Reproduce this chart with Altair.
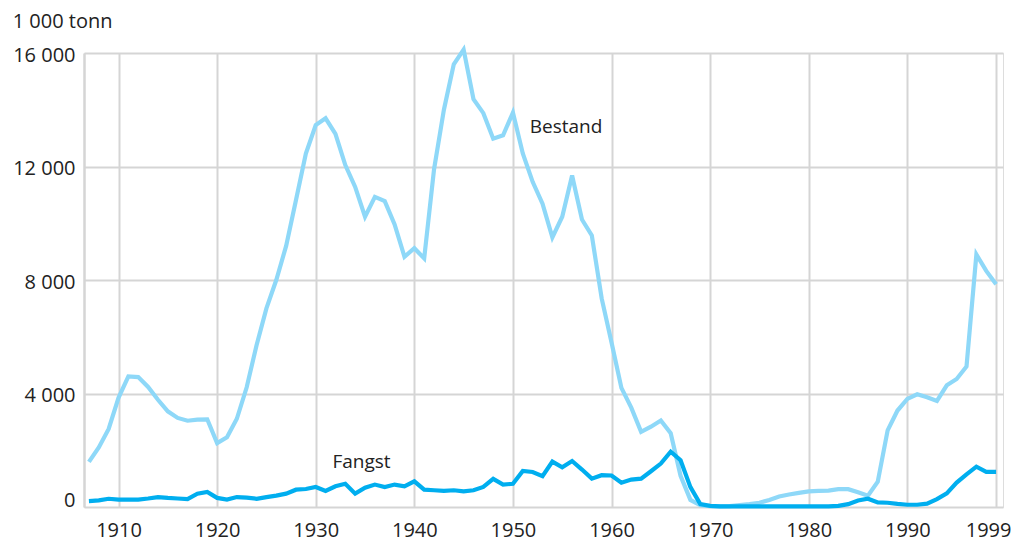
import altair as alt
import pandas as pd

years = list(range(1907, 2000))

bestand = [
    1590, 2100, 2750, 3850, 4600, 4580, 4230, 3780, 3370, 3140,
    3040, 3080, 3090, 2250, 2460, 3110, 4220, 5700, 7000, 8000,
    9200, 10820, 12460, 13460, 13700, 13150, 12050, 11280, 10230, 10930,
    10780, 9960, 8820, 9120, 8760, 11900, 14000, 15600, 16120, 14370,
    13880, 12980, 13100, 13900, 12460, 11460, 10690, 9500, 10230, 11680,
    10130, 9570, 7350, 5800, 4200, 3500, 2650, 2830, 3050, 2600,
    1100, 250, 60, 30, 20, 30, 70, 100, 150, 250,
    370, 440, 500, 550, 570, 580, 630, 630, 520, 400,
    890, 2700, 3400, 3810, 3970, 3870, 3740, 4290, 4510, 4950,
    8900, 8320, 7850,
]

fangst = [
    210, 235, 290, 260, 260, 260, 300, 350, 320, 300,
    280, 470, 530, 320, 260, 350, 330, 290, 350, 400,
    470, 610, 635, 705, 565, 730, 820, 470, 680, 790,
    705, 790, 730, 905, 610, 590, 565, 590, 550, 590,
    705, 990, 790, 820, 1270, 1235, 1090, 1600, 1400, 1620,
    1320, 1000, 1120, 1110, 855, 965, 1000, 1260, 1530, 1950,
    1650, 700, 100, 40, 20, 20, 20, 20, 20, 20,
    20, 20, 20, 20, 20, 20, 40, 100, 230, 290,
    160, 150, 110, 80, 80, 120, 280, 480, 860, 1150,
    1420, 1240, 1240,
]

series_names = ["Bestand", "Fangst"]
series_colors = ["#8ed8f8", "#00aeef"]

x_ticks = [1910, 1920, 1930, 1940, 1950, 1960, 1970, 1980, 1990, 1999]
y_ticks = [0, 4000, 8000, 12000, 16000]

label_text = ["Bestand", "Fangst"]
label_year = [1951.7, 1931.7]
label_value = [13400, 1580]

FONT = "Open Sans"
GRID = "#d5d5d5"
TXT = "#222222"

rows = []
for name, vals in zip(series_names, [bestand, fangst]):
    for yr, v in zip(years, vals):
        rows.append({"year": yr, "value": v, "series": name})
df = pd.DataFrame(rows)
labels_df = pd.DataFrame({"text": label_text, "year": label_year, "value": label_value})

x_scale = alt.Scale(domain=[1906.5, 1999.7], nice=False, zero=False)
y_scale = alt.Scale(domain=[0, 16000], nice=False)

x_axis = alt.Axis(
    values=x_ticks, format="d", title=None, grid=True, gridColor=GRID, gridWidth=2,
    domain=False, ticks=False, labelFont=FONT, labelFontSize=20, labelColor=TXT,
    labelPadding=13, labelFlush=False, labelOverlap=False,
    labelOffset={"condition": {"test": "datum.value === 1999", "value": -8}, "value": 0},
)
y_axis = alt.Axis(
    values=y_ticks, title=None, grid=True, gridColor=GRID, gridWidth=2,
    domain=True, domainColor=GRID, domainWidth=2.5, ticks=False,
    labelFont=FONT, labelFontSize=20, labelColor=TXT, labelPadding=9,
    labelExpr="replace(format(datum.value, ','), ',', ' ')",
    labelOffset={"condition": {"test": "datum.value === 0", "value": -7}, "value": 2},
    labelFlush=False, labelOverlap=False,
)

lines = alt.Chart(df).mark_line(strokeWidth=4.2, strokeJoin="miter", clip=False).encode(
    x=alt.X("year:Q", scale=x_scale, axis=x_axis),
    y=alt.Y("value:Q", scale=y_scale, axis=y_axis),
    color=alt.Color("series:N", scale=alt.Scale(domain=series_names, range=series_colors), legend=None),
    order=alt.Order("year:Q"),
    detail="series:N",
)

texts = alt.Chart(labels_df).mark_text(
    align="left", baseline="middle", font=FONT, fontSize=19, color=TXT
).encode(
    x=alt.X("year:Q", scale=x_scale),
    y=alt.Y("value:Q", scale=y_scale),
    text="text:N",
)

chart = alt.layer(lines, texts).properties(
    width=919,
    height=454,
    autosize=alt.AutoSizeParams(type="none"),
    padding={"left": 76, "top": 45, "right": 9, "bottom": 34},
    title=alt.TitleParams(
        text="1 000 tonn", anchor="start", dx=0, fontSize=20, font=FONT,
        color=TXT, fontWeight="normal", offset=9,
    ),
).configure_view(stroke=None).configure(background="white")

chart.save("out.html", embed_options={"renderer": "svg", "actions": False})
